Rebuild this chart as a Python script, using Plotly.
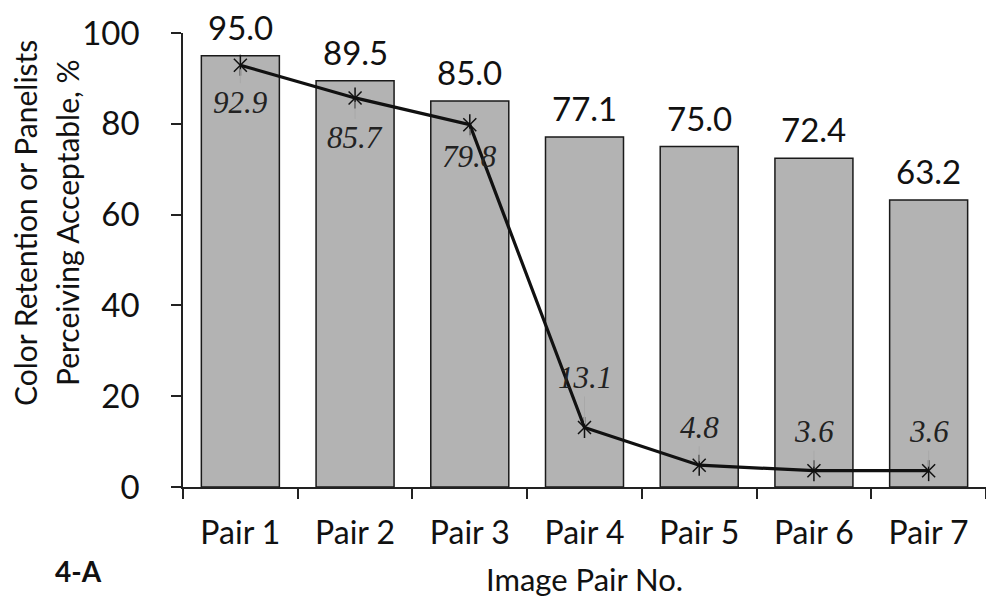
import plotly.graph_objects as go

categories = ["Pair 1", "Pair 2", "Pair 3", "Pair 4", "Pair 5", "Pair 6", "Pair 7"]
color_retention = [95.0, 89.5, 85.0, 77.1, 75.0, 72.4, 63.2]
panelists_acceptable = [92.9, 85.7, 79.8, 13.1, 4.8, 3.6, 3.6]
label_offsets = [37, 40, 32, -50, -38, -39, -39]  # label offset (px) from marker
y_ticks = [0, 20, 40, 60, 80, 100]

SANS = "Lato, 'Open Sans', sans-serif"
SERIF = "'Liberation Serif', 'DejaVu Serif', serif"

fig = go.Figure()
fig.add_trace(go.Bar(
    x=categories, y=color_retention,
    marker=dict(color="#b3b3b3", line=dict(color="#1a1a1a", width=1.5)),
    showlegend=False, hoverinfo="skip",
))
fig.add_trace(go.Scatter(
    x=categories, y=panelists_acceptable, mode="lines+markers",
    line=dict(color="#111111", width=3.2),
    marker=dict(symbol="x-thin-open", size=13, color="#111111",
                line=dict(color="#111111", width=1.5)),
    showlegend=False, hoverinfo="skip",
))
fig.add_trace(go.Scatter(
    x=categories, y=panelists_acceptable, mode="markers",
    marker=dict(symbol="line-ns-open", size=15, color="#111111",
                line=dict(color="#111111", width=1.5)),
    showlegend=False, hoverinfo="skip",
))

annotations = []
for c, v in zip(categories, color_retention):
    annotations.append(dict(
        x=c, y=v, xref="x", yref="y", text=f"{v:.1f}", showarrow=False,
        yshift=29, font=dict(family=SANS, size=33, color="#111111"),
    ))
for c, v, off in zip(categories, panelists_acceptable, label_offsets):
    annotations.append(dict(
        x=c, y=v, xref="x", yref="y", text=f"<i>{v:.1f}</i>", showarrow=True,
        arrowhead=0, arrowwidth=1, arrowcolor="#a8a8a8", ax=0, ay=off,
        standoff=4, font=dict(family=SERIF, size=31, color="#222222"),
    ))

L, R, T, B = 183, 0, 33, 113
W, H = 986, 600
pw, ph = W - L - R, H - T - B


def px(x, y):
    return (x - L) / pw, (H - B - y) / ph


def pix_ann(x, y, text, size, angle=0):
    xp, yp = px(x, y)
    return dict(x=xp, y=yp, xref="paper", yref="paper", xanchor="center",
                yanchor="middle", text=text, textangle=angle, showarrow=False,
                font=dict(family=SANS, size=size, color="#111111"))


annotations.append(pix_ann(25, 223, "Color Retention or Panelists", 30, -90))
annotations.append(pix_ann(67, 223, "Perceiving Acceptable, %", 30, -90))
annotations.append(pix_ann(584, 579, "Image Pair No.", 31))
annotations.append(pix_ann(78, 571, "<b>4-A</b>", 28))

fig.update_layout(
    width=W, height=H,
    margin=dict(l=L, r=R, t=T, b=B),
    paper_bgcolor="white", plot_bgcolor="white",
    bargap=0.32,
    annotations=annotations,
    font=dict(family=SANS, size=30, color="#111111"),
)
fig.update_xaxes(
    type="category", tickson="boundaries", ticks="outside", ticklen=10, tickwidth=1.5,
    tickcolor="#222222", showline=True, linecolor="#222222", linewidth=1.5,
    showgrid=False, tickfont=dict(family=SANS, size=32, color="#111111"),
    ticklabelstandoff=17,
)
fig.update_yaxes(
    range=[0, 100], tickvals=y_ticks, ticks="outside", ticklen=10, tickwidth=1.5,
    tickcolor="#222222", showline=True, linecolor="#222222", linewidth=1.5,
    showgrid=False, zeroline=False, tickfont=dict(family=SANS, size=33, color="#111111"),
    ticklabelstandoff=25,
)

fig.write_html("out.html", config={"displayModeBar": False},
               post_script="document.body.style.margin='0px';document.body.style.overflow='hidden';")
